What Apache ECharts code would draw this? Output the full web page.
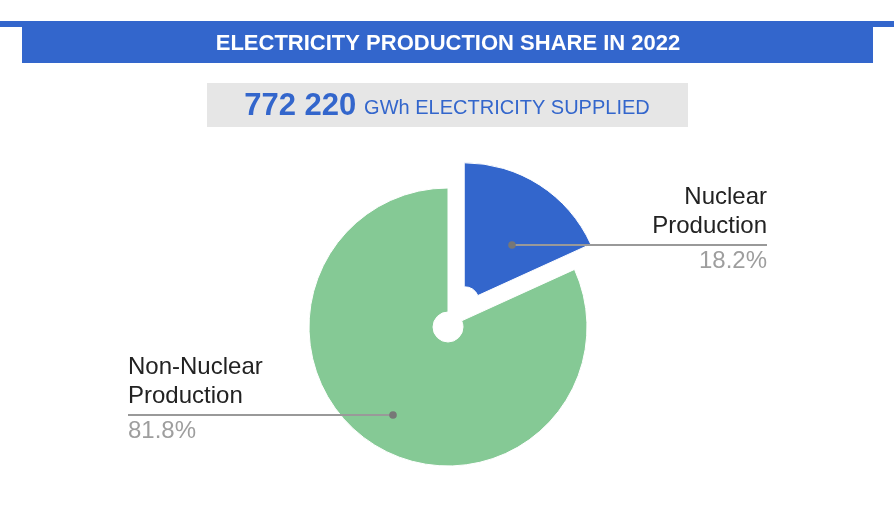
<!DOCTYPE html>
<html>
<head>
<meta charset="utf-8">
<script src="https://cdn.jsdelivr.net/npm/echarts@6/dist/echarts.min.js"></script>
<style>
html,body{margin:0;padding:0;background:#fff;}
#chart{width:894px;height:510px;}
</style>
</head>
<body>
<div id="chart"></div>
<script>
// ---- data ----
var titleText = 'ELECTRICITY PRODUCTION SHARE IN 2022';
var totalSupplied = 772220;            // GWh
var supplyUnit = 'GWh ELECTRICITY SUPPLIED';
var categories = ['Nuclear Production', 'Non-Nuclear Production'];
var shares = [18.2, 81.8];             // percent
var colors = ['#3366cc', '#85c995'];

// ---- layout (pixels) ----
var FONT = '"Liberation Sans", Arial, sans-serif';
var pieCenter = [448, 327];
var pieRadius = [15, 139];
// label anchors: dot position, line end x, alignment
var labelCfg = [
  { dot: [512, 245], endX: 767, align: 'right' },
  { dot: [393, 415], endX: 128, align: 'left' }
];

function fmtThousands(v) {
  return String(v).replace(/\B(?=(\d{3})+(?!\d))/g, ' ');
}

var chart = echarts.init(document.getElementById('chart'), null, { renderer: 'canvas' });

var pieData = categories.map(function (c, i) {
  return { name: c, value: shares[i], selected: i === 0, itemStyle: { color: colors[i] } };
});
var labelData = categories.map(function (c, i) {
  return { name: c, value: shares[i] };
});

var graphics = [
  { type: 'rect', shape: { x: 0, y: 21, width: 894, height: 6 }, style: { fill: '#3366cc' }, silent: true },
  { type: 'rect', shape: { x: 22, y: 21, width: 851, height: 42 }, style: { fill: '#3366cc' }, silent: true },
  { type: 'text', x: 448, y: 44, silent: true,
    style: { text: titleText, fill: '#ffffff', font: 'bold 22px ' + FONT, align: 'center', verticalAlign: 'middle' } },
  { type: 'rect', shape: { x: 207, y: 83, width: 481, height: 44 }, style: { fill: '#e6e6e6' }, silent: true },
  { type: 'text', x: 447, y: 106, silent: true,
    style: {
      text: '{a|' + fmtThousands(totalSupplied) + '}{s| }{b|' + supplyUnit + '}',
      align: 'center', verticalAlign: 'middle',
      rich: {
        a: { fontFamily: FONT, fontSize: 31, fontWeight: 'bold', fill: '#3366cc', color: '#3366cc' },
        s: { fontFamily: FONT, fontSize: 28, fill: '#3366cc', color: '#3366cc' },
        b: { fontFamily: FONT, fontSize: 20, fill: '#3366cc', color: '#3366cc', padding: [4, 0, 0, 0] }
      }
    }
  }
];
labelCfg.forEach(function (c) {
  graphics.push({ type: 'circle', shape: { cx: c.dot[0], cy: c.dot[1], r: 3.8 }, style: { fill: '#777777' }, silent: true, z: 100 });
});

chart.setOption({
  animation: false,
  backgroundColor: '#ffffff',
  graphic: graphics,
  series: [{
    type: 'pie',
    z: 2,
    center: pieCenter,
    radius: pieRadius,
    startAngle: 90,
    clockwise: true,
    selectedMode: 'single',
    selectedOffset: 30,
    silent: true,
    itemStyle: { borderColor: '#ffffff', borderWidth: 1 },
    label: { show: false },
    labelLine: { show: false },
    data: pieData
  }, {
    type: 'pie',
    z: 5,
    center: pieCenter,
    radius: pieRadius,
    startAngle: 90,
    clockwise: true,
    silent: true,
    avoidLabelOverlap: false,
    itemStyle: { color: 'rgba(0,0,0,0)', borderWidth: 0 },
    data: labelData,
    label: {
      show: true,
      position: 'outside',
      formatter: function (p) {
        var idx = p.name.lastIndexOf(' ');
        var l1 = p.name.slice(0, idx), l2 = p.name.slice(idx + 1);
        return '{n|' + l1 + '}\n{n|' + l2 + '}\n{p|' + p.value.toFixed(1) + '%}';
      },
      rich: {
        n: { fontFamily: FONT, fontSize: 24, color: '#222222', lineHeight: 29 },
        p: { fontFamily: FONT, fontSize: 24, color: '#9e9e9e', lineHeight: 41 }
      }
    },
    labelLine: { show: true, lineStyle: { color: '#999999', width: 2 } },
    labelLayout: function (params) {
      var c = labelCfg[params.dataIndex];
      var y = c.dot[1];
      return {
        x: c.endX,
        y: y - 62,
        align: c.align,
        verticalAlign: 'top',
        labelLinePoints: [[c.dot[0], y], [c.endX, y], [c.endX, y]]
      };
    }
  }]
});
</script>
</body>
</html>
